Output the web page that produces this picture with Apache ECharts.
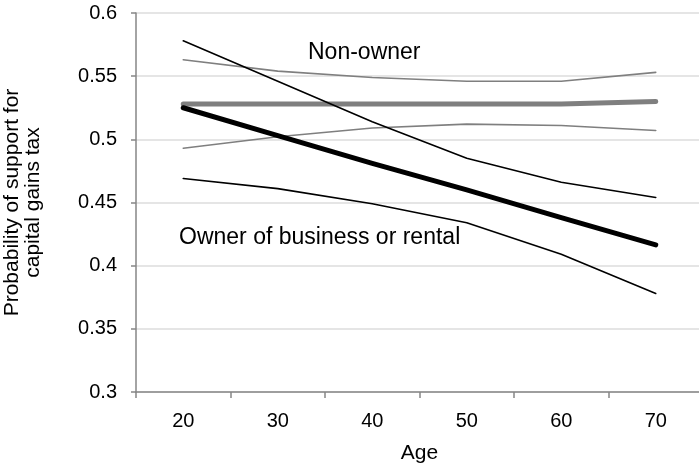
<!DOCTYPE html>
<html>
<head>
<meta charset="utf-8">
<script src="https://cdn.jsdelivr.net/npm/echarts@6/dist/echarts.min.js"></script>
<style>
  html, body { margin: 0; padding: 0; background: #fff; }
  #chart { width: 699px; height: 466px; }
</style>
</head>
<body>
<div id="chart"></div>
<script>
var ages = ['20', '30', '40', '50', '60', '70'];

// non-owner: estimate and confidence band
var nonOwner = [0.528, 0.528, 0.528, 0.528, 0.528, 0.530];
var nonOwnerHi = [0.563, 0.554, 0.549, 0.546, 0.546, 0.553];
var nonOwnerLo = [0.493, 0.502, 0.509, 0.512, 0.511, 0.507];

// owner of business or rental
var owner = [0.525, 0.503, 0.481, 0.460, 0.438, 0.4165];
var ownerHi = [0.578, 0.546, 0.514, 0.485, 0.466, 0.454];
var ownerLo = [0.469, 0.461, 0.449, 0.434, 0.409, 0.378];

var FONT = 'Liberation Sans, Arial, sans-serif';
var chart = echarts.init(document.getElementById('chart'));

function line(data, color, width) {
  return {
    type: 'line',
    data: data,
    symbol: 'none',
    silent: true,
    lineStyle: { color: color, width: width, cap: 'round', join: 'round' }
  };
}

chart.setOption({
  animation: false,
  textStyle: { fontFamily: FONT },
  grid: { left: 136, top: 13, width: 567, height: 379, containLabel: false, outerBoundsMode: 'none' },
  xAxis: {
    type: 'category',
    data: ages,
    boundaryGap: true,
    name: 'Age',
    nameLocation: 'middle',
    nameGap: 51,
    nameTextStyle: { fontSize: 21, color: '#000', fontFamily: FONT },
    axisLine: { lineStyle: { color: '#868686', width: 1.5 } },
    axisTick: { show: true, length: 6, lineStyle: { color: '#868686', width: 1.5 } },
    axisLabel: { fontSize: 20, color: '#000', margin: 19, fontFamily: FONT },
    splitLine: { show: false }
  },
  yAxis: {
    type: 'value',
    min: 0.3,
    max: 0.6,
    interval: 0.05,
    name: 'Probability of support for\ncapital gains tax',
    nameLocation: 'middle',
    nameGap: 92,
    nameTextStyle: { fontSize: 21, color: '#000', lineHeight: 21, fontFamily: FONT },
    axisLine: { show: true, lineStyle: { color: '#868686', width: 1.5 } },
    axisTick: { show: true, length: 5, lineStyle: { color: '#868686', width: 1.5 } },
    axisLabel: {
      fontSize: 20, color: '#000', margin: 19, fontFamily: FONT,
      formatter: function (v) { return String(+v.toFixed(2)); }
    },
    splitLine: { lineStyle: { color: '#dcdcdc', width: 1.5 } }
  },
  graphic: [
    { type: 'text', x: 308, y: 53, style: { text: 'Non-owner', fontSize: 23, fill: '#000', font: '23px ' + FONT, verticalAlign: 'middle' } },
    { type: 'text', x: 179, y: 238, style: { text: 'Owner of business or rental', fontSize: 23, fill: '#000', font: '23px ' + FONT, verticalAlign: 'middle' } }
  ],
  series: [
    line(nonOwnerHi, '#7f7f7f', 1.6),
    line(nonOwnerLo, '#7f7f7f', 1.6),
    line(nonOwner, '#7f7f7f', 5),
    line(ownerHi, '#000', 1.6),
    line(ownerLo, '#000', 1.6),
    line(owner, '#000', 5)
  ]
});
</script>
</body>
</html>
